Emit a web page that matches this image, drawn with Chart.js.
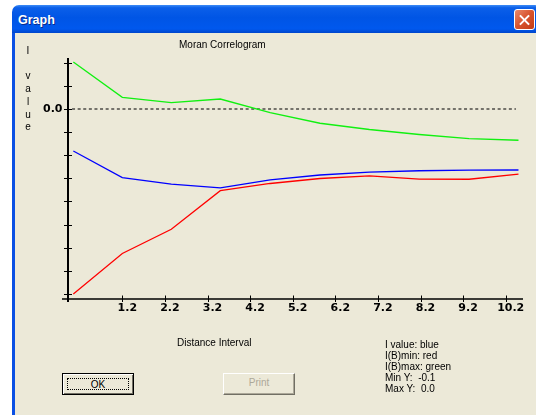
<!DOCTYPE html>
<html>
<head>
<meta charset="utf-8">
<title>Graph</title>
<script src="https://cdn.jsdelivr.net/npm/chart.js@4.4.1/dist/chart.umd.min.js"></script>
<style>
  html, body { margin: 0; padding: 0; width: 536px; height: 415px; overflow: hidden; background: #fff; }
  .abs { position: absolute; }
  #titlebar {
    left: 12px; top: 5px; width: 530px; height: 28px; border-radius: 7px 7px 0 0;
    background: linear-gradient(to bottom, #3d8cf6 0%, #0b5fe9 10%, #0055e5 45%, #0058ee 85%, #0046cc 100%);
  }
  #titletext { left: 18px; top: 13px; line-height: 15px; font: bold 12.5px "Liberation Sans", sans-serif; color: #fff; text-shadow: 1px 1px #0b2a8c; }
  #close {
    left: 514px; top: 9px; width: 21px; height: 21px; box-sizing: border-box; border: 1px solid #fff; border-radius: 3px;
    background: linear-gradient(135deg, #e98a6c 0%, #d8532d 50%, #c23c16 100%);
  }
  #close::before, #close::after {
    content: ""; position: absolute; left: 3px; top: 8.5px; width: 13px; height: 2px; background: #fff;
  }
  #close::before { transform: rotate(45deg); }
  #close::after { transform: rotate(-45deg); }
  #leftborder { left: 12px; top: 33px; width: 3px; height: 382px; background: #0a50e4; }
  #client { left: 15px; top: 33px; width: 521px; height: 382px; background: #ece9d8; }
  canvas { position: absolute; left: 0; top: 0; z-index: 2; }
  .lbl { z-index: 3; font: 10px "Liberation Sans", sans-serif; color: #000; white-space: pre; }
  #charttitle { left: 179px; top: 39px; line-height: 12px; }
  #xtitle { left: 177px; top: 337px; line-height: 12px; }
  #ytitle { left: 23px; top: 45px; width: 10px; text-align: center; line-height: 12.7px; }
  #legend { left: 385px; top: 339px; line-height: 11px; }
  .btn { z-index: 3; top: 373px; width: 72px; height: 22px; box-sizing: border-box; background: #ece9d8;
         font: 10px "Liberation Sans", sans-serif; text-align: center; line-height: 18px; }
  #ok { left: 62px; border: 1px solid #000; box-shadow: inset 1px 1px #fff, inset -1px -1px #716f64; }
  #ok span { position: absolute; left: 4px; top: 4px; right: 4px; bottom: 4px; border: 1px dotted #000; line-height: 12px; }
  #print { left: 223px; color: #aca899; border-top: 1px solid #fff; border-left: 1px solid #fff;
           border-right: 1px solid #716f64; border-bottom: 1px solid #716f64; box-shadow: inset -1px -1px #aca899; }
</style>
</head>
<body>
<div id="titlebar" class="abs"></div>
<div id="titletext" class="abs">Graph</div>
<div id="close" class="abs"></div>
<div id="leftborder" class="abs"></div>
<div id="client" class="abs"></div>
<canvas id="chart" width="536" height="415"></canvas>
<div id="charttitle" class="abs lbl">Moran Correlogram</div>
<div id="ytitle" class="abs lbl"></div>
<div id="xtitle" class="abs lbl">Distance Interval</div>
<div id="legend" class="abs lbl"></div>
<div id="ok" class="abs btn"><span>OK</span></div>
<div id="print" class="abs btn">Print</div>
<script>
// values
const distance = [0.05, 1.2, 2.35, 3.5, 4.67, 5.84, 7.0, 8.17, 9.34, 10.5];
const iValue = [-0.0227, -0.0371, -0.0406, -0.0427, -0.0384, -0.0357, -0.0342, -0.0334, -0.0331, -0.0330];
const iMin = [-0.1001, -0.0782, -0.0651, -0.0442, -0.0403, -0.0376, -0.0362, -0.0379, -0.0380, -0.0352];
const iMax = [0.0254, 0.0063, 0.0035, 0.0054, -0.0019, -0.0077, -0.0111, -0.0138, -0.0160, -0.0169];
const zeroLineX = [0.02, 10.44];

const xTickValues = [1.2, 2.2, 3.2, 4.2, 5.2, 6.2, 7.2, 8.2, 9.2, 10.2];
const yTickValues = [0.025, 0.0125, 0, -0.0125, -0.025, -0.0375, -0.05, -0.0625, -0.075, -0.0875, -0.1];
const yTickLabel = '0.0';

const yTitle = 'I value';
const legendLines = ['I value: blue', 'I(B)min: red', 'I(B)max: green', 'Min Y:  -0.1', 'Max Y:  0.0'];

document.getElementById('ytitle').innerHTML = yTitle.split('').map(c => c === ' ' ? '&nbsp;' : c).join('<br>');
document.getElementById('legend').textContent = legendLines.join('\n');

const pts = (ys) => distance.map((d, i) => ({ x: d, y: ys[i] }));

// old style axes: ticks cross the axis lines
const oldAxes = {
  id: 'oldAxes',
  beforeDatasetsDraw(chart) {
    const { ctx, scales: { x, y } } = chart;
    const ax = x.getPixelForValue(x.min);
    const ay = y.getPixelForValue(y.min);
    ctx.save();
    ctx.strokeStyle = '#000';
    ctx.lineWidth = 2;
    ctx.beginPath();
    ctx.moveTo(ax, y.getPixelForValue(y.max));
    ctx.lineTo(ax, ay + 3);
    ctx.stroke();
    ctx.lineWidth = 1.5;
    ctx.beginPath();
    ctx.moveTo(ax - 6, ay);
    ctx.lineTo(x.getPixelForValue(x.max), ay);
    ctx.stroke();
    ctx.lineWidth = 1;
    ctx.beginPath();
    y.ticks.forEach(t => {
      const py = Math.round(y.getPixelForValue(t.value)) + 0.5;
      ctx.moveTo(ax - 4, py);
      ctx.lineTo(ax + 4, py);
    });
    x.ticks.forEach(t => {
      const px = Math.round(x.getPixelForValue(t.value)) + 0.5;
      ctx.moveTo(px, ay - 3.5);
      ctx.lineTo(px, ay + 3);
    });
    ctx.stroke();
    ctx.restore();
  }
};

const tickFont = { family: 'DejaVu Sans', size: 11, weight: 'bold' };

new Chart(document.getElementById('chart').getContext('2d'), {
  type: 'line',
  data: {
    datasets: [
      { label: 'I value', data: pts(iValue), borderColor: '#0000ff', borderWidth: 1.3 },
      { label: 'I(B)min', data: pts(iMin), borderColor: '#ff0000', borderWidth: 1.3 },
      { label: 'I(B)max', data: pts(iMax), borderColor: '#11f011', borderWidth: 1.3 },
      { label: 'zero', data: zeroLineX.map(v => ({ x: v, y: 0 })), borderColor: '#74726a', borderWidth: 2, borderDash: [3, 2.6] }
    ]
  },
  options: {
    animation: false,
    responsive: false,
    devicePixelRatio: 1,
    elements: { point: { radius: 0 }, line: { tension: 0 } },
    layout: { padding: { left: 0, right: 13, top: 58, bottom: 0 } },
    plugins: { legend: { display: false }, title: { display: false }, tooltip: { enabled: false } },
    scales: {
      x: {
        type: 'linear',
        min: -0.0751,
        max: 10.606,
        afterBuildTicks: (s) => { s.ticks = xTickValues.map(v => ({ value: v })); },
        afterFit: (s) => { s.height = 116; },
        grid: { display: false, drawTicks: false },
        border: { display: false },
        ticks: {
          autoSkip: false, maxRotation: 0, padding: 3, labelOffset: 5,
          color: '#000', font: tickFont,
          callback: (v) => v.toFixed(1)
        }
      },
      y: {
        min: -0.10281,
        max: 0.0276,
        afterBuildTicks: (s) => { s.ticks = yTickValues.map(v => ({ value: v })); },
        afterFit: (s) => { s.width = 68; },
        grid: { display: false, drawTicks: false },
        border: { display: false },
        ticks: {
          autoSkip: false, padding: 5.5, color: '#000', font: tickFont,
          callback: (v) => v === 0 ? yTickLabel : ''
        }
      }
    }
  },
  plugins: [oldAxes]
});
</script>
</body>
</html>
